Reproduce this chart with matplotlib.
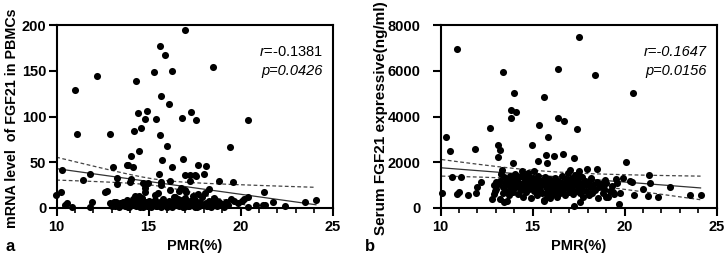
import matplotlib
matplotlib.use("Agg")
import matplotlib.pyplot as plt
from matplotlib.ticker import MultipleLocator
import numpy as np

plt.rcParams['font.family'] = ['Liberation Sans', 'DejaVu Sans']
plt.rcParams['mathtext.fontset'] = 'custom'
plt.rcParams['mathtext.rm'] = 'Liberation Sans'
plt.rcParams['mathtext.it'] = 'Liberation Sans:italic'

# ---- panel a: mRNA level of FGF21 in PBMCs vs PMR ----
pmr_a = [11.0, 11.1, 12.2, 12.9, 14.3, 14.2, 14.4, 14.6, 14.9, 14.8, 15.3, 15.4, 15.6, 15.9,
         15.7, 15.6, 16.1, 16.3, 17.0, 16.8, 17.3, 17.6, 18.5, 20.4, 19.4, 15.75, 16.0, 16.3,
         16.85, 14.46, 14.07, 13.8, 13.88, 14.15, 13.07, 13.29, 13.29, 11.81, 10.3, 11.44,
         10.23, 9.98, 12.62, 12.74, 14.03, 14.0, 14.25, 14.46, 14.37, 14.7, 14.79, 14.88, 14.97,
         14.79, 14.79, 15.33, 15.51, 15.69, 15.69, 15.56, 16.14, 16.14, 17.0, 17.23, 17.23,
         16.78, 16.65, 17.5, 17.68, 18.13, 18.0, 17.6, 18.82, 19.58, 18.26, 21.26, 20.39, 20.07,
         20.17, 19.85, 19.49, 19.67, 19.22, 19.3, 20.85, 21.2, 21.33, 21.75, 22.42, 23.5, 24.1,
         20.39, 10.54, 10.45, 10.81, 11.93, 11.8, 17.0, 17.05, 16.4, 16.6, 18.6, 19.0,
         12.9, 13.0, 13.1, 13.2, 13.25, 13.4, 13.45, 13.55, 13.6, 13.7, 13.75, 13.85, 13.95,
         14.0, 14.1, 14.15, 14.2, 14.3, 14.35, 14.45, 14.55, 14.6, 14.65, 14.75, 14.85, 14.9,
         15.0, 15.05, 15.15, 15.2, 15.3, 15.35, 15.45, 15.5, 15.6, 15.65, 15.75, 15.8, 15.9,
         15.95, 16.05, 16.1, 16.2, 16.25, 16.35, 16.45, 16.5, 16.55, 16.65, 16.7, 16.8, 16.85,
         16.95, 17.0, 17.1, 17.15, 17.25, 17.3, 17.4, 17.45, 17.5, 17.55, 17.6, 17.7, 17.75,
         17.8, 17.9, 17.95, 18.05, 18.1, 18.2, 18.3, 18.45, 18.55, 18.7, 18.85, 19.0, 19.1,
         13.15, 13.5, 13.9, 14.25, 14.5, 14.7, 15.1, 15.4, 15.7, 16.0, 16.3, 16.6, 16.9, 17.2,
         17.35, 17.65, 17.85, 18.15, 18.4]
mrna_a = [129, 81, 144, 81, 139, 84, 104, 87, 106, 97, 149, 97, 177, 167,
          123, 80, 114, 150, 195, 98, 105, 96, 154, 96, 67, 53, 68, 45,
          54, 62.5, 57, 46.5, 47, 45, 45, 33, 26.5, 37, 41, 31,
          17.5, 14, 17.5, 19, 32, 28, 12.7, 13.4, 9, 27, 25.4, 26, 27,
          22, 17.5, 14.5, 16.4, 28, 24.6, 36.7, 29, 20, 36, 36, 29,
          22, 19, 36, 47, 46, 37, 34.5, 29, 28, 21, 17, 12, 8,
          9.8, 5.5, 9.8, 7.2, 6, 3.6, 3.6, 3.6, 3.6, 6, 1.7, 6, 9,
          0.7, 5.5, 3, 1, 6, 1, 20, 18, 12, 10, 9, 4,
          5, 2, 7, 3, 6, 1, 5, 3, 7, 2, 4, 9, 1,
          5, 3, 10, 6, 2, 4, 8, 1, 5, 11, 3, 6, 2,
          8, 4, 1, 6, 3, 9, 2, 5, 7, 1, 4, 10, 3,
          6, 2, 8, 4, 1, 6, 12, 3, 7, 2, 5, 9, 1,
          4, 11, 6, 2, 8, 3, 13, 5, 1, 9, 4, 15, 2,
          7, 12, 3, 16, 5, 2, 8, 4, 11, 2, 6, 3, 1,
          2, 4, 1, 3, 2, 1, 4, 2, 3, 1, 2, 3, 1, 2,
          4, 1, 3, 2, 1]

# ---- panel b: serum FGF21 vs PMR ----
pmr_b = [10.05, 10.3, 10.5, 10.6, 11.1, 10.87, 10.9, 10.97, 11.5, 11.84, 11.9, 11.99, 12.2,
         12.66, 12.8, 12.9, 12.93, 13.13, 13.2, 13.13, 13.4, 13.96, 13.83, 14.1, 13.83, 13.43,
         13.6, 13.94, 14.99, 15.3, 15.37, 15.64, 15.75, 15.8, 15.84, 16.16, 16.4, 16.4, 16.67,
         16.7, 17.23, 17.4, 17.5, 18.37, 20.43, 20.07, 21.3, 21.39, 22.47, 23.55, 24.13, 21.8,
         21.28, 21.02, 20.5, 20.4, 20.3, 19.94, 19.67, 19.76, 19.58, 19.54, 19.36, 19.0, 18.95,
         18.5, 17.95, 17.27, 17.6, 15.6, 15.8,
         13.1, 13.2, 13.3, 13.35, 13.4, 13.45, 13.5, 13.55, 13.6, 13.65, 13.7, 13.75, 13.8,
         13.85, 13.9, 13.95, 14.0, 14.05, 14.1, 14.15, 14.2, 14.25, 14.3, 14.35, 14.4, 14.45,
         14.5, 14.5, 14.55, 14.6, 14.65, 14.7, 14.75, 14.8, 14.85, 14.9, 14.95, 15.0, 15.05,
         15.1, 15.15, 15.2, 15.25, 15.3, 15.35, 15.4, 15.45, 15.5, 15.55, 15.6, 15.65, 15.7,
         15.75, 15.8, 15.85, 15.9, 15.95, 16.0, 16.05, 16.1, 16.15, 16.2, 16.25, 16.3, 16.35,
         16.4, 16.45, 16.5, 16.55, 16.6, 16.65, 16.7, 16.75, 16.8, 16.85, 16.9, 16.95, 17.0,
         17.05, 17.1, 17.15, 17.2, 17.25, 17.3, 17.35, 17.4, 17.45, 17.5, 17.55, 17.6, 17.65,
         17.7, 17.75, 17.8, 17.85, 17.9, 18.0, 18.05, 18.1, 18.2, 18.25, 18.3, 18.4, 18.5,
         18.55, 18.6, 18.7, 18.8, 18.9, 19.0, 19.1, 19.2, 19.3, 19.45, 12.9, 13.0, 13.0, 13.25,
         13.4, 14.2, 14.6, 15.0, 15.4, 15.9, 16.3, 16.8, 17.3, 17.8, 14.0, 14.8, 15.2, 16.1,
         16.6, 17.1, 17.6, 18.15]
serum_b = [655, 3098, 2487, 1353, 1353, 6953, 625, 698, 582, 2574, 655, 916, 1134,
           3520, 407, 625, 756, 2764, 2516, 2225, 5964, 5018, 4290, 4204, 3956, 247,
           291, 1964, 2734, 2065, 3622, 4873, 2313, 1978, 3084, 2269, 6065, 3942, 2356,
           3811, 2182, 3462, 7476, 5833, 5018, 2022, 1440, 1091, 902, 553, 553, 465,
           538, 829, 553, 1120, 1193, 1309, 189, 655, 1091, 1265, 684, 465, 1207,
           1716, 1702, 100, 276, 290, 480,
           1050, 1200, 1500, 1650, 900, 1350, 1100, 750, 1250, 1000, 550, 1400, 850,
           1150, 1300, 700, 1050, 1500, 900, 1200, 600, 1350, 1000, 800, 1600, 1100,
           500, 1450, 950, 1250, 700, 1050, 1550, 850, 1150, 450, 1000, 1300, 750,
           1600, 900, 1100, 550, 1400, 1000, 800, 1200, 650, 1050, 350, 1350, 900,
           1150, 700, 1000, 1250, 450, 850, 1100, 600, 950, 1300, 750, 1050, 500,
           1200, 900, 650, 1100, 1400, 800, 1000, 550, 1250, 900, 1550, 700, 1100,
           1650, 850, 1300, 600, 1000, 1450, 750, 1200, 950, 1600, 650, 1100, 850,
           1350, 500, 1000, 1200, 750, 1100, 550, 900, 1250, 650, 1000, 800, 1150,
           450, 900, 1050, 650, 850, 1100, 500, 750, 950, 600, 1000, 850, 1150, 400,
           650, 1000, 900, 1150, 1000, 800, 1200, 950, 1150, 1050, 1250, 1350, 1200, 1000,
           1100, 1250, 1400, 1300]

# regression fit and 95% band: value(x) = y10 + slope*(x-10)
fit_a = dict(y10=43.0, slope=-2.8, xm=15.5, a=3.5, c=4.75)
fit_b = dict(y10=1760.0, slope=-62.5, xm=15.5, a=205.0, c=3018.0)

panels = [
    dict(x=pmr_a, y=mrna_a, fit=fit_a, ymax=200, ystep=50,
         ylabel='mRNA level  of FGF21 in PBMCs', ylab_x=-0.135, ylab_size=10.3,
         yfont=['Liberation Sans'], ysize=10.5, ypad=2,
         r_txt=r'$\mathit{r}$=-0.1381', p_txt='p=0.0426', r_style='normal',
         left=0.078, tag='a', tagx=0.014),
    dict(x=pmr_b, y=serum_b, fit=fit_b, ymax=8000, ystep=2000,
         ylabel='Serum FGF21 expressive(ng/ml)', ylab_x=-0.19, ylab_size=11,
         yfont=['Liberation Sans Narrow', 'Liberation Sans'], ysize=10.5, ypad=9,
         r_txt='r=-0.1647', p_txt='p=0.0156', r_style='italic',
         left=0.607, tag='b', tagx=0.509),
]

fig = plt.figure(figsize=(7.26, 2.59), dpi=100)

for pn in panels:
    ax = fig.add_axes([pn['left'], 0.197, 0.380, 0.706])
    ax.scatter(pn['x'], pn['y'], s=26, color='black', zorder=3, clip_on=False,
               linewidths=0)

    f = pn['fit']
    xs = np.linspace(min(pn['x']), max(pn['x']), 100)
    yfit = f['y10'] + f['slope'] * (xs - 10)
    hw = np.sqrt(f['a'] ** 2 + f['c'] * (xs - f['xm']) ** 2)
    ax.plot(xs, yfit, color='#333333', lw=0.9, zorder=2)
    ax.plot(xs, yfit + hw, color='#444444', lw=0.9, ls=(0, (3, 2)), zorder=2)
    ax.plot(xs, yfit - hw, color='#444444', lw=0.9, ls=(0, (3, 2)), zorder=2)

    ax.set_xlim(10, 25)
    ax.set_ylim(0, pn['ymax'])
    ax.xaxis.set_major_locator(MultipleLocator(5))
    ax.xaxis.set_minor_locator(MultipleLocator(1))
    ax.yaxis.set_major_locator(MultipleLocator(pn['ystep']))
    for s in ax.spines.values():
        s.set_linewidth(1.5)
    ax.tick_params(which='major', direction='out', length=5.5, width=1.5,
                   labelsize=10.5)
    ax.tick_params(which='minor', direction='out', length=3.5, width=1.2)
    ax.tick_params(axis='y', pad=pn['ypad'])
    for lbl in ax.get_xticklabels():
        lbl.set_fontweight('bold')
    for lbl in ax.get_yticklabels():
        lbl.set_fontweight('bold')
        lbl.set_family(pn['yfont'])
        lbl.set_fontsize(pn['ysize'])

    ax.set_xlabel('PMR(%)', fontsize=10.5, fontweight='bold', labelpad=3)
    ax.set_ylabel(pn['ylabel'], fontsize=pn['ylab_size'], fontweight='bold')
    ax.yaxis.set_label_coords(pn['ylab_x'], 0.49)

    ax.text(0.965, 0.855, pn['r_txt'], transform=ax.transAxes, ha='right',
            va='center', fontsize=10.5, style=pn['r_style'])
    ax.text(0.965, 0.75, pn['p_txt'], transform=ax.transAxes, ha='right',
            va='center', fontsize=10.5, style='italic')

    fig.text(pn['tagx'], 0.05, pn['tag'], fontsize=12, fontweight='bold',
             ha='center', va='center')

fig.savefig('out.png', dpi=100)
